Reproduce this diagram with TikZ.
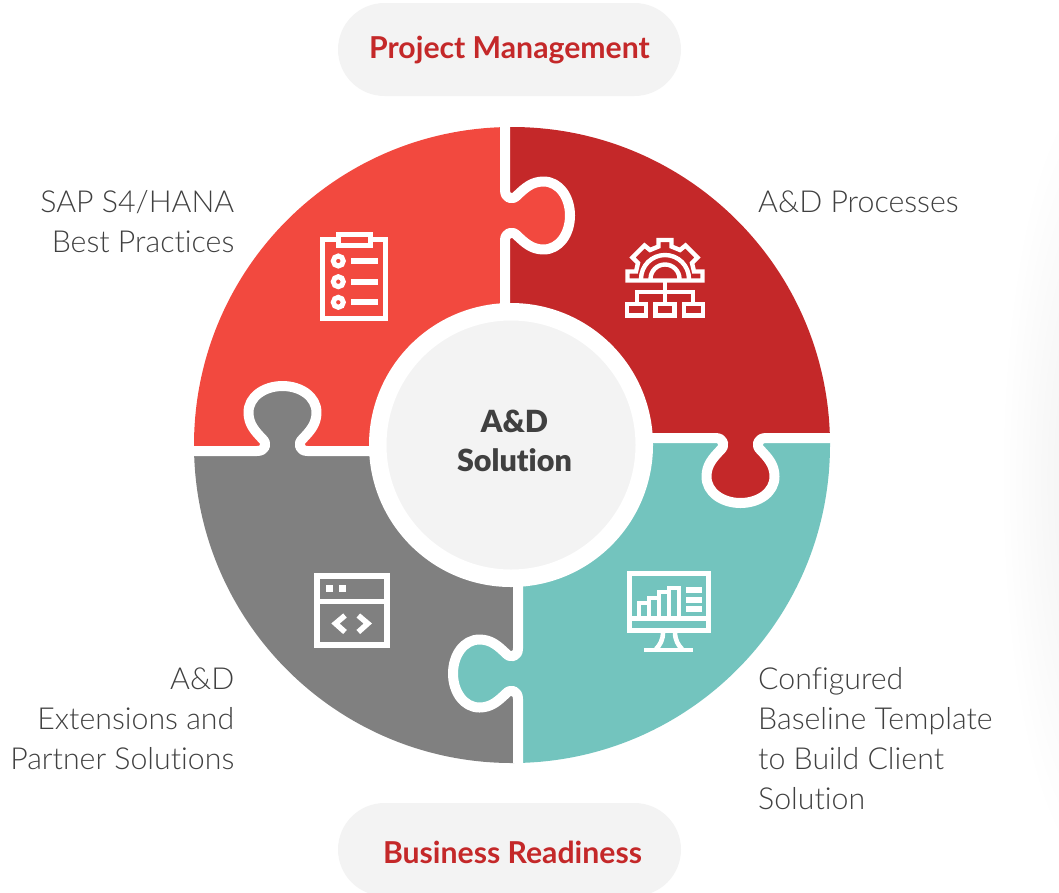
\documentclass[tikz,border=0pt]{standalone}
\usepackage{fontspec}
\setmainfont{Lato}[Ligatures=CommonOff]
\newfontfamily\lightfont{Lato Light}[Ligatures=CommonOff]
\newfontfamily\heavyfont{Lato Black}[Ligatures=CommonOff]
\definecolor{pzOrange}{HTML}{F2493F}
\definecolor{pzRed}{HTML}{C42829}
\definecolor{pzTeal}{HTML}{73C4BE}
\definecolor{pzGrey}{HTML}{808080}
\definecolor{pzHub}{HTML}{F3F3F3}
\definecolor{pzText}{HTML}{404040}
\definecolor{pzShadow}{HTML}{EFEFEF}
\tikzset{
  pill/.style={fill=pzHub,rounded corners=46.5pt,draw=none},
  pilltext/.style={font=\bfseries\fontsize{30.2}{34}\selectfont,text=pzRed,inner sep=0pt},
  lbl/.style={font=\lightfont\fontsize{30.3}{40}\selectfont,text=pzText,inner sep=0pt},
  seam/.style={draw=white,line width=10pt,line join=round},
  ic/.style={draw=white,line width=4.6pt,line join=miter},
}
\def\knob{(-6.5,-254.5) .. controls (-6.5,-246) and (1,-243.5) .. (6,-249.5) .. controls (13,-256) and (20,-263) .. (32,-263) .. controls (48,-263) and (58.5,-247) .. (58.5,-229) .. controls (58.5,-211) and (48,-195) .. (32,-195) .. controls (20,-195) and (13,-202) .. (6,-208.5) .. controls (1,-214.5) and (-6.5,-212) .. (-6.5,-204)}
\begin{document}
\begin{tikzpicture}[x=1pt,y=-1pt]
\useasboundingbox (0,0) rectangle (1059,892);
\clip (0,0) rectangle (1059,892);
% soft shadow at the right edge
\shade[inner color=pzShadow,outer color=white] (1100,480) ellipse [x radius=100pt,y radius=400pt];
% pills
\path[pill] (338,3) rectangle (681,96);
\path[pill] (338,803) rectangle (681,896);
\node[pilltext] (pm) at (509.5,50) {Project Management};
\node[pilltext] (br) at (512.5,852) {Business Readiness};
% wheel
\begin{scope}
\clip (512,445) circle [radius=318pt];
\foreach \i/\c in {0/pzOrange,1/pzRed,2/pzTeal,3/pzGrey}{
  \begin{scope}[shift={(511.5,444.5)},rotate=-90*\i]
    \fill[\c] (-400,-400) rectangle (-6.5,6.5);
  \end{scope}
}
\foreach \i/\c in {0/pzOrange,1/pzRed,2/pzTeal,3/pzGrey}{
  \begin{scope}[shift={(511.5,444.5)},rotate=-90*\i]
    \fill[\c] \knob -- cycle;
    \draw[seam] (-6.5,-340) -- \knob -- (-6.5,-100);
  \end{scope}
}
\end{scope}
% hub
\node[circle,fill=pzHub,draw=white,line width=17.5pt,minimum size=266.5pt,inner sep=0pt] (hub) at (511,445) {};
\node[align=center,inner sep=0pt,font=\heavyfont\fontsize{30.5}{39.5}\selectfont,text=pzText] (hubtext) at (514.5,441) {A\&D\\Solution};
% labels
\node[lbl,align=right,anchor=east] (sap) at (234.5,222) {SAP S4/HANA\\Best Practices};
\node[lbl,align=left,anchor=west] (proc) at (758,202) {A\&D Processes};
\node[lbl,align=right,anchor=east] (ext) at (234.5,719) {A\&D\\Extensions and\\Partner Solutions};
\node[lbl,align=left,anchor=west] (cfg) at (758,739) {Configured\\Baseline Template\\to Build Client\\Solution};
% clipboard icon
\draw[ic] (322.5,239.5) rectangle (385.5,318.5);
\draw[ic,fill=pzOrange] (338.3,234.3) rectangle (370.5,245.7);
\foreach \y in {261,281.7,302.3}{
  \draw[white,line width=5pt] (338.3,\y) circle [radius=5pt];
  \fill[white] (351,\y-3) rectangle (378,\y+3);
}
% gear icon
\draw[ic,line width=4.4pt] (627.5,280.5) -- (627.5,271.5) -- (636,271.5) -- (638,263) -- (632.5,257.5) -- (644.5,245.5) -- (650,250) -- (658.5,246.5) -- (658.5,240) -- (671.5,240) -- (671.5,246.5) -- (680,250) -- (685.5,245.5) -- (697.5,257.5) -- (692,263) -- (694,271.5) -- (702.5,271.5) -- (702.5,280.5) -- cycle;
\draw[ic,line width=4.4pt] (641,279) arc[start angle=180,end angle=0,radius=24pt];
\draw[ic,line width=4.4pt] (650.5,279) arc[start angle=180,end angle=0,radius=14.5pt];
\draw[ic,line width=4pt] (665,282) -- (665,302);
\draw[ic,line width=4pt] (636.7,302) -- (636.7,292) -- (693.3,292) -- (693.3,302);
\foreach \x in {627,655.5,684}{
  \draw[ic,line width=4.4pt] (\x,303.9) rectangle (\x+19,315.5);
}
% window icon
\draw[ic,line width=6pt] (317.3,576) rectangle (386.7,645.3);
\draw[ic,line width=5pt] (317.3,601) -- (386.7,601);
\fill[white] (326,585) rectangle (333.3,592);
\fill[white] (338.7,585) rectangle (346,592);
\draw[ic,line width=5.5pt] (345,615.5) -- (335.5,623.5) -- (345,632);
\draw[ic,line width=5.5pt] (358.3,615.5) -- (367.8,623.5) -- (358.3,632);
% monitor icon
\draw[ic] (629.5,573.3) rectangle (708.5,630.5);
\draw[ic] (629.5,618.6) -- (708.5,618.6);
\draw[ic] (663,632) .. controls (663,640) and (660,645) .. (656,649);
\draw[ic] (675,632) .. controls (675,640) and (678,645) .. (682,649);
\draw[ic] (644.3,650) -- (693.3,650);
\draw[ic,line width=4pt] (639.3,616) -- (639.3,603.3) -- (649.3,603.3) -- (649.3,616);
\draw[ic,line width=4pt] (649.3,603.3) -- (649.3,598.3) -- (659.3,598.3) -- (659.3,616);
\draw[ic,line width=4pt] (659.3,598.3) -- (659.3,592.3) -- (669.3,592.3) -- (669.3,616);
\draw[ic,line width=4pt] (669.3,592.3) -- (669.3,587.7) -- (679,587.7) -- (679,616);
\foreach \y in {589.5,600,609}{
  \fill[white] (686,\y-3) rectangle (702,\y+3);
}
\end{tikzpicture}
\end{document}
